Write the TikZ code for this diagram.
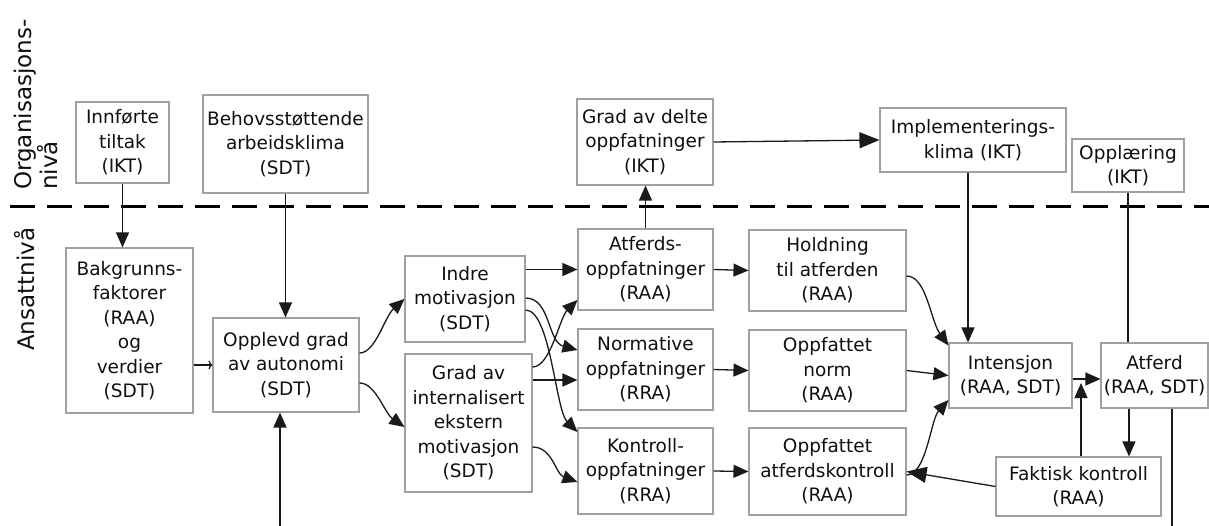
\documentclass[tikz,border=0pt]{standalone}
\usepackage{fontspec}
\setmainfont{DejaVu Sans}
\usetikzlibrary{arrows.meta}
\definecolor{boxgray}{HTML}{A0A0A0}
\definecolor{linec}{HTML}{1A1A1A}
\definecolor{textc}{HTML}{101010}
\begin{document}
\begin{tikzpicture}[x=1pt,y=-1pt,
  box/.style={draw=boxgray, line width=1.1pt, fill=white, align=center, inner sep=1pt,
    font=\fontsize{18.5}{24.5}\selectfont, text=textc},
  conn/.style={draw=linec, line width=1.3pt, -{Triangle[length=15pt,width=13pt]}},
  bigconn/.style={draw=linec, line width=1.3pt, -{Triangle[length=20pt,width=16pt]}},
  smallconn/.style={draw=linec, line width=1.3pt, -{To[length=4pt,width=9pt]}},
  plain/.style={draw=linec, line width=1.3pt},
  lvl/.style={rotate=90, anchor=north west, inner sep=0pt, align=left,
    font=\fontsize{23}{23.5}\selectfont, text=textc}
]
\useasboundingbox (0,0) rectangle (1209,526);

% level labels and separator
\node[lvl] (orglab) at (14,190) {Organisasjons-\\nivå};
\node[lvl] (anslab) at (14,351) {Ansattnivå};
\draw[black, line width=3pt, dash pattern=on 25pt off 12pt] (10,207) -- (1209,207);

% boxes
\node[box, minimum width=93pt, minimum height=81pt] (inn) at (122.5,142.5) {Innførte\\tiltak\\(IKT)};
\node[box, minimum width=165pt, minimum height=98pt] (beh) at (285.5,144) {Behovsstøttende\\arbeidsklima\\(SDT)};
\node[box, minimum width=127pt, minimum height=165pt] (bak) at (129.5,330.5) {Bakgrunns-\\faktorer\\(RAA)\\og\\verdier\\(SDT)};
\node[box, minimum width=146pt, minimum height=94pt] (opp) at (286,365) {Opplevd grad\\av autonomi\\(SDT)};
\node[box, minimum width=120pt, minimum height=86pt] (ind) at (465,299) {Indre\\motivasjon\\(SDT)};
\node[box, minimum width=127pt, minimum height=138pt] (gie) at (468.5,423) {Grad av\\internalisert\\ekstern\\motivasjon\\(SDT)};
\node[box, minimum width=136pt, minimum height=86pt] (gdo) at (645,142) {Grad av delte\\oppfatninger\\(IKT)};
\node[box, minimum width=135pt, minimum height=81pt] (ao) at (645.5,269.5) {Atferds-\\oppfatninger\\(RAA)};
\node[box, minimum width=135pt, minimum height=81pt] (no) at (645.5,369.5) {Normative\\oppfatninger\\(RRA)};
\node[box, minimum width=135pt, minimum height=86pt] (ko) at (645.5,471) {Kontroll-\\oppfatninger\\(RRA)};
\node[box, minimum width=157pt, minimum height=81pt] (hol) at (827.5,270.5) {Holdning\\til atferden\\(RAA)};
\node[box, minimum width=157pt, minimum height=81pt] (on) at (827.5,370.5) {Oppfattet\\norm\\(RAA)};
\node[box, minimum width=157pt, minimum height=87pt] (oak) at (827.5,471.5) {Oppfattet\\atferdskontroll\\(RAA)};
\node[box, minimum width=186pt, minimum height=64pt] (imp) at (973,140) {Implementerings-\\klima (IKT)};
\node[box, minimum width=112pt, minimum height=53pt] (opl) at (1128,165.5) {Opplæring\\(IKT)};
\node[box, minimum width=123pt, minimum height=65pt] (int) at (1010.5,375.5) {Intensjon\\(RAA, SDT)};
\node[box, minimum width=107pt, minimum height=65pt] (atf) at (1154.5,375.5) {Atferd\\(RAA, SDT)};
\node[box, minimum width=165pt, minimum height=59pt] (fk) at (1078.5,486.5) {Faktisk kontroll\\(RAA)};

\coordinate (oppin) at (280,526);
\coordinate (atfout) at (1172,526);
\coordinate (mod) at (1081,383);

% straight connectors
\draw[conn] (inn.south) -- (inn.south |- bak.north);
\draw[conn] (beh.south) -- (beh.south |- opp.north);
\draw[conn] (oppin) -- ([xshift=-6pt]opp.south);
\draw[smallconn] (bak.east |- opp.west) -- (opp.west);
\draw[conn] (ind.east |- ao.west) -- (ao.west);
\draw[conn] ([yshift=43pt]gie.east) -- ([yshift=-10.5pt]no.west);
\draw[conn] (ao.east) -- (hol.west);
\draw[conn] (no.east) -- (on.west);
\draw[conn] (ko.east) -- (oak.west);
\draw[conn] (on.east) -- (int.west);
\draw[conn] (ao.north) -- (ao.north |- gdo.south);
\draw[bigconn] (gdo.east) -- (imp.west);
\draw[conn] ([xshift=-5pt]imp.south) -- ([xshift=-42.5pt]int.north);
\draw[plain] (opl.south) -- (opl.south |- atf.north);
\draw[conn] ([yshift=-3.5pt]int.east) -- ([yshift=-3.5pt]atf.west);
\draw[conn] ([xshift=2.5pt]fk.north) -- (mod);
\draw[conn] ([xshift=-25.5pt]atf.south) -- ([xshift=50.5pt]fk.north);
\draw[plain] ([xshift=17.5pt]atf.south) -- (atfout);
\draw[bigconn] (fk.west) -- (oak.east);

% curved connectors
\draw[conn] ([yshift=12pt]opp.east) .. controls +(16,0) and +(-20,18) .. (ind.west);
\draw[conn] ([yshift=-18pt]opp.east) .. controls +(16,0) and +(-20,-14) .. ([yshift=-4pt]gie.west);
\draw[conn] ([yshift=1pt]ind.east) .. controls +(25,0) and +(-30,-8) .. ([yshift=19.5pt]no.west);
\draw[conn] ([yshift=-11pt]ind.east) .. controls +(25,0) and +(-22,-22) .. ([yshift=39pt]ko.west);
\draw[conn] ([yshift=56pt]gie.east) .. controls +(18,0) and +(-18,18) .. ([yshift=-30.5pt]ao.west);
\draw[conn] ([yshift=-24pt]gie.east) .. controls +(20,0) and +(-22,-8) .. ([yshift=-11pt]ko.west);
\draw[conn] ([yshift=-5.5pt]hol.east) .. controls +(20,0) and +(-18,-25) .. ([yshift=30pt]int.west);
\draw[conn] ([yshift=-3.5pt]oak.east) .. controls +(20,0) and +(-18,20) .. ([yshift=-24.5pt]int.west);
\end{tikzpicture}
\end{document}
